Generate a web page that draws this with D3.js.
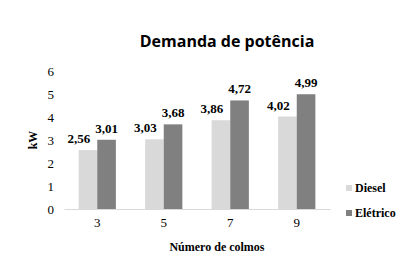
<!DOCTYPE html>
<html>
<head>
<meta charset="utf-8">
<script src="https://cdn.jsdelivr.net/npm/d3@7"></script>
<style>
  body { margin: 0; background: #fff; }
</style>
</head>
<body>
<svg id="chart"></svg>
<script>
// Chart data
var categories = ["3", "5", "7", "9"];
var seriesNames = ["Diesel", "Elétrico"];
var diesel = [2.56, 3.03, 3.86, 4.02];
var eletrico = [3.01, 3.68, 4.72, 4.99];
var yTicks = [0, 1, 2, 3, 4, 5, 6];

var width = 415, height = 260;
var colors = ["#d9d9d9", "#808080"];
var serif = "'Liberation Serif'";

var svg = d3.select("#chart")
    .attr("width", width)
    .attr("height", height);

// scales
var x = d3.scaleBand()
    .domain(categories)
    .range([64, 330]);

var xInner = d3.scaleBand()
    .domain(seriesNames)
    .range([x.bandwidth() * 0.22, x.bandwidth() * 0.78]);

var y = d3.scaleLinear()
    .domain([0, 6])
    .range([209, 71]);

var rows = categories.map(function(c, i) {
    return { cat: c, values: [
        { name: "Diesel", value: diesel[i] },
        { name: "Elétrico", value: eletrico[i] }
    ]};
});

// title
svg.append("text")
    .attr("x", 227)
    .attr("y", 47)
    .attr("text-anchor", "middle")
    .style("font-family", "'Open Sans'")
    .style("font-weight", "bold")
    .style("font-size", "16px")
    .text("Demanda de potência");

// y axis (no line, only labels)
var yAxis = svg.append("g")
    .attr("transform", "translate(58,0)")
    .call(d3.axisLeft(y).tickValues(yTicks).tickSize(0).tickPadding(4).tickFormat(d3.format("d")));
yAxis.select(".domain").remove();
yAxis.selectAll("text")
    .style("font-family", serif)
    .style("font-size", "13px")
    .attr("fill", "#000");

// bars
var groups = svg.selectAll(".grp")
    .data(rows)
    .enter().append("g")
    .attr("class", "grp")
    .attr("transform", d => "translate(" + x(d.cat) + ",0)");

groups.selectAll("rect")
    .data(d => d.values)
    .enter().append("rect")
    .attr("x", d => xInner(d.name))
    .attr("y", d => y(d.value))
    .attr("width", xInner.bandwidth())
    .attr("height", d => y(0) - y(d.value))
    .attr("fill", (d, i) => colors[i]);

// value labels (diesel ones sit a bit to the left, like the original)
groups.selectAll(".lbl")
    .data(d => d.values)
    .enter().append("text")
    .attr("class", "lbl")
    .attr("x", (d, i) => xInner(d.name) + xInner.bandwidth() / 2 - (i === 0 ? 9 : 0))
    .attr("y", d => y(d.value) - 7)
    .attr("text-anchor", "middle")
    .style("font-family", serif)
    .style("font-weight", "bold")
    .style("font-size", "13px")
    .text(d => d3.format(".2f")(d.value).replace(".", ","));

// x axis
var xAxis = svg.append("g")
    .attr("transform", "translate(0," + y(0) + ")")
    .call(d3.axisBottom(x).tickSize(0).tickPadding(9));
xAxis.select(".domain").attr("stroke", "#d9d9d9");
xAxis.selectAll("text")
    .style("font-family", serif)
    .style("font-size", "13px")
    .attr("fill", "#000");

// axis titles
svg.append("text")
    .attr("transform", "translate(37,140) rotate(-90)")
    .attr("text-anchor", "middle")
    .style("font-family", serif)
    .style("font-weight", "bold")
    .style("font-size", "12px")
    .text("kW");

svg.append("text")
    .attr("x", 217)
    .attr("y", 251)
    .attr("text-anchor", "middle")
    .style("font-family", serif)
    .style("font-weight", "bold")
    .style("font-size", "12px")
    .text("Número de colmos");

// legend
var legend = svg.selectAll(".leg")
    .data(seriesNames)
    .enter().append("g")
    .attr("class", "leg")
    .attr("transform", (d, i) => "translate(346," + (188 + i * 25) + ")");

legend.append("rect")
    .attr("x", 0)
    .attr("y", -3)
    .attr("width", 6)
    .attr("height", 6)
    .attr("fill", (d, i) => colors[i]);

legend.append("text")
    .attr("x", 9)
    .attr("y", 4)
    .style("font-family", serif)
    .style("font-weight", "bold")
    .style("font-size", "12px")
    .text(d => d);
</script>
</body>
</html>
